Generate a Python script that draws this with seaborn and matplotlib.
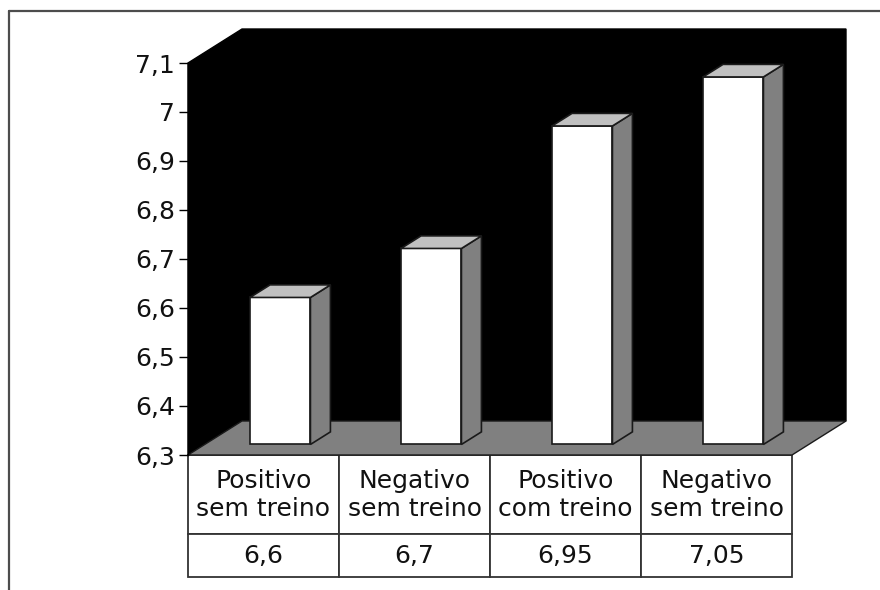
import numpy as np
import pandas as pd
import matplotlib
matplotlib.use("Agg")
import matplotlib.pyplot as plt
import matplotlib.transforms as mtransforms
from matplotlib.patches import Polygon
from matplotlib.lines import Line2D
import seaborn as sns

# Grupos e médias
categories = ["Positivo\nsem treino", "Negativo\nsem treino",
              "Positivo\ncom treino", "Negativo\nsem treino"]
values = [6.6, 6.7, 6.95, 7.05]
y_ticks = [6.3, 6.4, 6.5, 6.6, 6.7, 6.8, 6.9, 7.0, 7.1]
y_tick_labels = ["6,3", "6,4", "6,5", "6,6", "6,7", "6,8", "6,9", "7", "7,1"]
value_labels = [f"{v:g}".replace(".", ",") for v in values]

sns.set_style("white")
plt.rcParams["font.family"] = ["DejaVu Sans"]

W, H, DPI = 880, 590, 100
fig = plt.figure(figsize=(W / DPI, H / DPI), dpi=DPI)
fig.patch.set_facecolor("white")
ax = fig.add_axes([188 / W, (H - 455) / H, 604 / W, 392 / H])
ax.patch.set_visible(False)

df = pd.DataFrame({"pos": np.arange(len(values)), "valor": values})
sns.barplot(data=df, x="pos", y="valor", width=0.4, color="white",
            saturation=1, edgecolor="#1a1a1a", linewidth=1.2, ax=ax, zorder=3)
bars = list(ax.patches)

BASE = y_ticks[0]
ax.set_xlim(-0.5, len(values) - 0.5)
ax.set_ylim(BASE, y_ticks[-1])

# 3D box: front plane is the axes rectangle, pushed back by DEPTH pixels
DEPTH = np.array([54.0, 34.0])
F_FRONT, F_BACK = 0.31, 0.68
ident = mtransforms.IdentityTransform()


def disp(x, y):
    return np.asarray(ax.transData.transform((x, y)))


x_lo, x_hi = ax.get_xlim()
fl_top, fr_top = disp(x_lo, y_ticks[-1]), disp(x_hi, y_ticks[-1])
fl_bot, fr_bot = disp(x_lo, BASE), disp(x_hi, BASE)

wall = [fl_top, fl_top + DEPTH, fr_top + DEPTH, fr_bot + DEPTH,
        fl_bot + DEPTH, fl_bot]
ax.add_patch(Polygon(wall, closed=True, transform=ident, facecolor="black",
                     edgecolor="black", lw=1, clip_on=False, zorder=0.5))
floor = [fl_bot, fl_bot + DEPTH, fr_bot + DEPTH, fr_bot]
ax.add_patch(Polygon(floor, closed=True, transform=ident, facecolor="#808080",
                     edgecolor="#1a1a1a", lw=1, clip_on=False, zorder=0.6))

front_shift = mtransforms.ScaledTranslation(F_FRONT * DEPTH[0] / DPI,
                                            F_FRONT * DEPTH[1] / DPI,
                                            fig.dpi_scale_trans)
for p in bars:
    x0, w, h = p.get_x(), p.get_width(), p.get_height()
    p.set_y(BASE)
    p.set_height(h - BASE)
    p.set_transform(ax.transData + front_shift)
    p.set_clip_on(False)

    bl, br = disp(x0, BASE), disp(x0 + w, BASE)
    tl, tr = disp(x0, h), disp(x0 + w, h)
    f, b = F_FRONT * DEPTH, F_BACK * DEPTH
    side = [br + f, tr + f, tr + b, br + b]
    top = [tl + f, tr + f, tr + b, tl + b]
    ax.add_patch(Polygon(side, closed=True, transform=ident, facecolor="#808080",
                         edgecolor="#1a1a1a", lw=1.2, clip_on=False, zorder=3))
    ax.add_patch(Polygon(top, closed=True, transform=ident, facecolor="#c0c0c0",
                         edgecolor="#1a1a1a", lw=1.2, clip_on=False, zorder=3))

# Axis styling
ax.set_xticks([])
ax.set_xlabel("")
ax.set_ylabel("")
ax.set_yticks(y_ticks)
ax.set_yticklabels(y_tick_labels)
ax.tick_params(axis="y", left=True, length=6.5, width=1, color="black",
               pad=3, labelsize=18, labelcolor="#111111")
for s in ["top", "right", "bottom"]:
    ax.spines[s].set_visible(False)
ax.spines["left"].set_color("black")
ax.spines["left"].set_linewidth(1)
ax.spines["left"].set_zorder(2)

# Data table under the plot
TABLE_H = 122 / 392
ROW_H = [80, 43]
tbl = ax.table(cellText=[categories, value_labels], cellLoc="center",
               bbox=[0, -TABLE_H, 1, TABLE_H])
tbl.auto_set_font_size(False)
tbl.set_fontsize(18)
for (r, c), cell in tbl.get_celld().items():
    cell.set_height(ROW_H[r])
    cell.set_edgecolor("#333333")
    cell.set_linewidth(1.3)
    cell.set_facecolor("white")
    cell.get_text().set_color("#111111")

# Frame lines along the top and left of the figure
fig.add_artist(Line2D([9 / W, 1], [1 - 11 / H, 1 - 11 / H],
                      color="#4d4d4d", lw=1.6))
fig.add_artist(Line2D([9 / W, 9 / W], [0, 1 - 11 / H],
                      color="#4d4d4d", lw=1.6))

fig.savefig("out.png", dpi=DPI, facecolor="white")
